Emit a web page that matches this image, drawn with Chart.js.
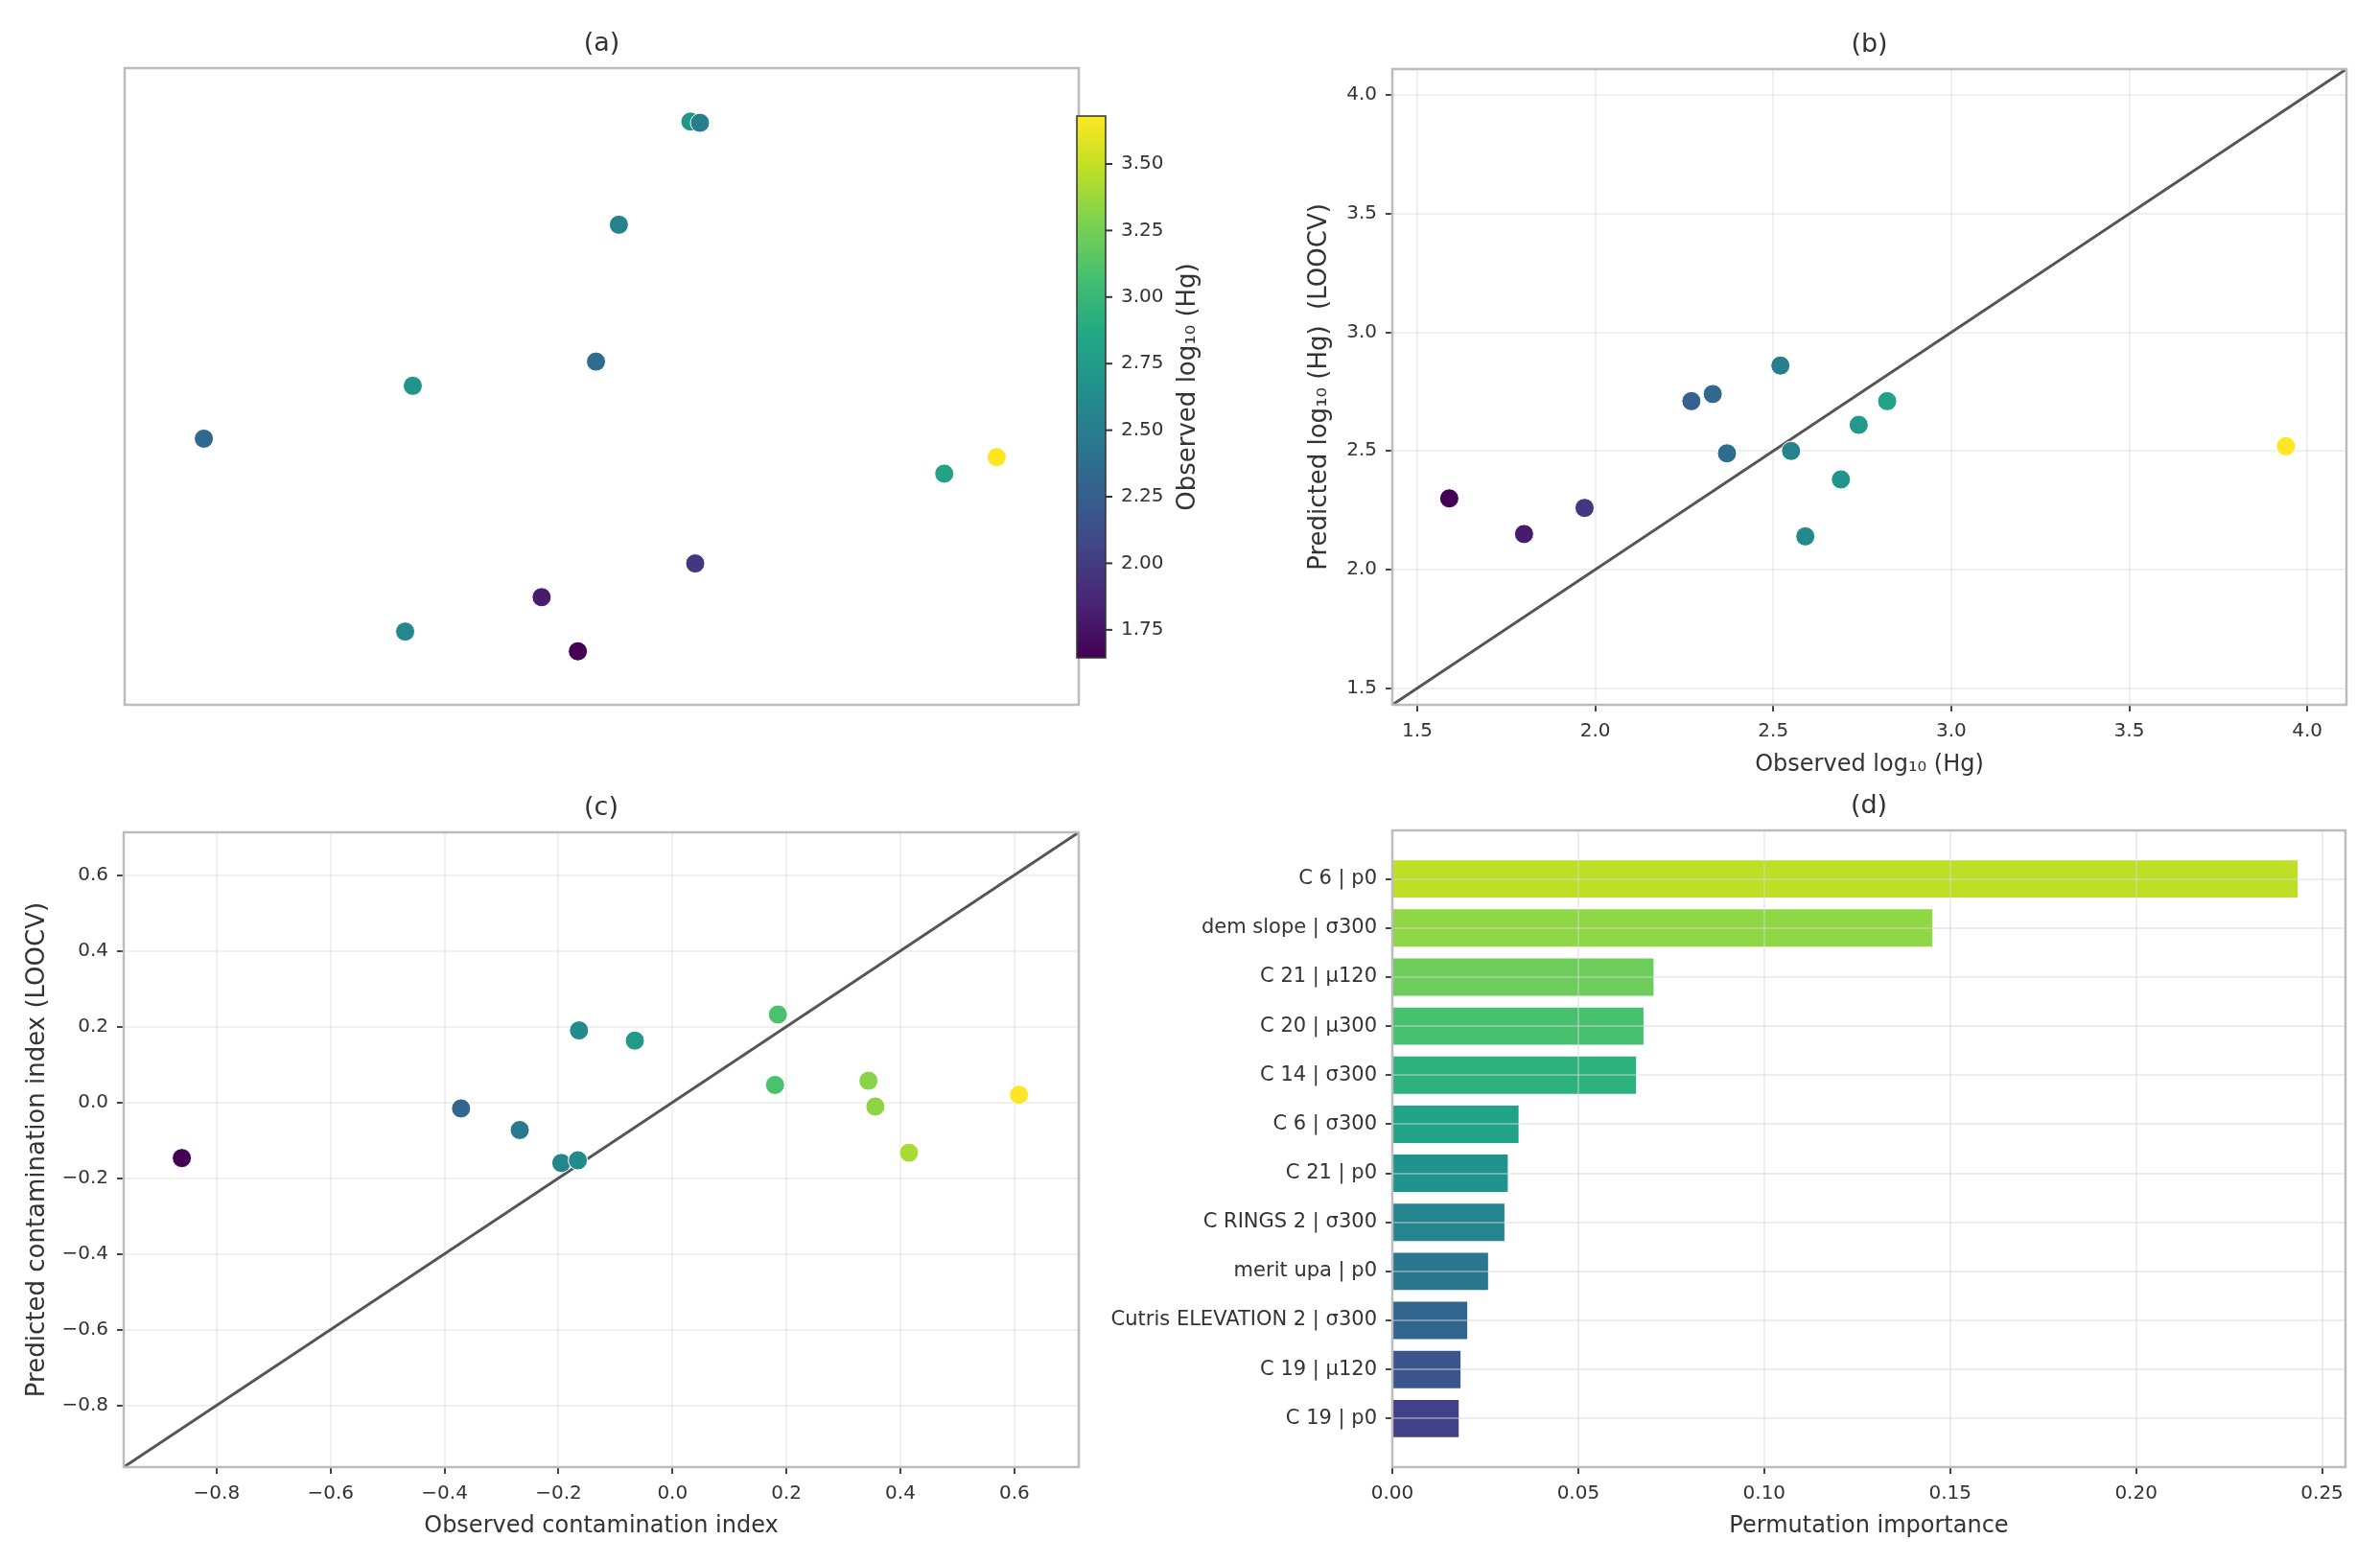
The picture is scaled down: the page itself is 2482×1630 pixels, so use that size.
<!DOCTYPE html>
<html>
<head>
  <title>Hg LOOCV panels</title>
  <script src="https://cdn.jsdelivr.net/npm/chart.js"></script>
  <style>
    body { margin: 0; background: #fff; }
    #wrap { position: relative; width: 2482px; height: 1630px; }
    canvas { position: absolute; }
  </style>
</head>
<body>
<div id="wrap">
  <canvas id="chartA" width="1300" height="815" style="left:0;top:0"></canvas>
  <canvas id="chartB" width="1182" height="815" style="left:1300px;top:0"></canvas>
  <canvas id="chartC" width="1140" height="815" style="left:0;top:815px"></canvas>
  <canvas id="chartD" width="1342" height="815" style="left:1140px;top:815px"></canvas>
</div>

<script>
  // (a) sample locations (no axes shown), coloured by observed log10(Hg)
  const mapX = [59.3, 60.3, 51.8, 49.4, 30.2, 8.3, 85.9, 91.4, 59.8, 43.7, 29.4, 47.5];
  const mapY = [91.6, 91.4, 75.4, 53.9, 50.1, 41.8, 36.3, 38.9, 22.2, 16.9, 11.5, 8.4];
  const mapObs = [2.73, 2.52, 2.55, 2.37, 2.69, 2.33, 2.81, 3.94, 1.97, 1.80, 2.59, 1.59];
  const cbMin = 1.645, cbMax = 3.68;
  const cbTicks = [1.75, 2.00, 2.25, 2.50, 2.75, 3.00, 3.25, 3.50];

  // (b) observed vs predicted log10(Hg)
  const hgObs = [1.59, 1.80, 1.97, 2.27, 2.33, 2.37, 2.52, 2.55, 2.59, 2.69, 2.74, 2.82, 3.94];
  const hgPred = [2.30, 2.15, 2.26, 2.71, 2.74, 2.49, 2.86, 2.50, 2.14, 2.38, 2.61, 2.71, 2.52];
  const hgLim = [1.43, 4.11];
  const hgTicks = [1.5, 2.0, 2.5, 3.0, 3.5, 4.0];

  // (c) observed vs predicted contamination index
  const ciObs = [-0.861, -0.371, -0.268, -0.195, -0.166, -0.164, -0.066, 0.180, 0.185, 0.344, 0.356, 0.415, 0.608];
  const ciPred = [-0.147, -0.016, -0.073, -0.160, -0.153, 0.190, 0.163, 0.046, 0.232, 0.057, -0.011, -0.133, 0.020];
  const ciLim = [-0.963, 0.713];
  const ciTicks = [-0.8, -0.6, -0.4, -0.2, 0.0, 0.2, 0.4, 0.6];

  // (d) permutation importance
  const features = ['C 6 | p0', 'dem slope | σ300', 'C 21 | μ120', 'C 20 | μ300', 'C 14 | σ300', 'C 6 | σ300',
    'C 21 | p0', 'C RINGS 2 | σ300', 'merit upa | p0', 'Cutris ELEVATION 2 | σ300', 'C 19 | μ120', 'C 19 | p0'];
  const importance = [0.2437, 0.1455, 0.0705, 0.0678, 0.0658, 0.0342, 0.0313, 0.0304, 0.0260, 0.0204, 0.0186, 0.0181];
  const impTicks = [0, 0.05, 0.10, 0.15, 0.20, 0.25];

  const barColors = ['#bddf26', '#8fd744', '#6ccd5a', '#48c16e', '#2db27d', '#20a386',
    '#1f948c', '#25858e', '#2a768e', '#32658e', '#3a548c', '#424086'];

  // viridis
  const viridisStops = ['#440154', '#482475', '#414487', '#355f8d', '#2a788e', '#21918c',
    '#22a884', '#44bf70', '#7ad151', '#bddf26', '#fde725'];

  function hexRgb(h) {
    return [1, 3, 5].map(i => parseInt(h.slice(i, i + 2), 16));
  }
  function viridis(t) {
    t = Math.min(1, Math.max(0, t));
    const n = viridisStops.length - 1;
    const i = Math.min(n - 1, Math.floor(t * n));
    const f = t * n - i;
    const a = hexRgb(viridisStops[i]), b = hexRgb(viridisStops[i + 1]);
    const c = a.map((v, k) => Math.round(v + (b[k] - v) * f));
    return `rgb(${c[0]},${c[1]},${c[2]})`;
  }

  Chart.defaults.font.family = '"DejaVu Sans", sans-serif';
  Chart.defaults.font.size = 20;
  Chart.defaults.color = '#333';
  Chart.defaults.animation = false;
  Chart.defaults.plugins.legend.display = false;
  Chart.defaults.plugins.tooltip.enabled = false;

  const frame = {
    id: 'frame',
    afterDraw(chart) {
      const { ctx, chartArea: a } = chart;
      ctx.save();
      ctx.strokeStyle = '#bcbcbc';
      ctx.lineWidth = 2.5;
      ctx.strokeRect(a.left, a.top, a.right - a.left, a.bottom - a.top);
      ctx.restore();
    }
  };

  const panelTitle = {
    id: 'panelTitle',
    afterDraw(chart, args, opts) {
      const { ctx, chartArea: a } = chart;
      ctx.save();
      ctx.font = '27px "DejaVu Sans"';
      ctx.fillStyle = '#333';
      ctx.textAlign = 'center';
      ctx.textBaseline = 'middle';
      ctx.fillText(opts.text, (a.left + a.right) / 2, a.top - 25);
      ctx.restore();
    }
  };

  const colorbar = {
    id: 'colorbar',
    afterDraw(chart) {
      const { ctx, chartArea: a } = chart;
      const x0 = a.right - 2, w = 30, top = a.top + 50, bottom = a.bottom - 49;
      const grad = ctx.createLinearGradient(0, bottom, 0, top);
      viridisStops.forEach((c, i) => grad.addColorStop(i / (viridisStops.length - 1), c));
      ctx.save();
      ctx.fillStyle = grad;
      ctx.fillRect(x0, top, w, bottom - top);
      ctx.strokeStyle = '#333';
      ctx.lineWidth = 1.5;
      ctx.strokeRect(x0, top, w, bottom - top);
      const yOf = v => bottom - (v - cbMin) / (cbMax - cbMin) * (bottom - top);
      ctx.font = '20px "DejaVu Sans"';
      ctx.fillStyle = '#333';
      ctx.textAlign = 'left';
      ctx.textBaseline = 'middle';
      ctx.lineWidth = 2;
      cbTicks.forEach(v => {
        const y = yOf(v);
        ctx.beginPath();
        ctx.moveTo(x0 + w, y);
        ctx.lineTo(x0 + w + 7, y);
        ctx.stroke();
        ctx.fillText(v.toFixed(2), x0 + w + 16, y);
      });
      ctx.translate(a.right + 114, (top + bottom) / 2);
      ctx.rotate(-Math.PI / 2);
      ctx.textAlign = 'center';
      ctx.font = '26px "DejaVu Sans"';
      ctx.fillText('Observed log₁₀ (Hg)', 0, 0);
      ctx.restore();
    }
  };

  const minus = v => (v < 0 ? '\u2212' : '');

  function numAxis(min, max, ticks, fmt, title, titlePad, size, isY, gridOpts) {
    return {
      type: 'linear',
      min: min,
      max: max,
      offset: false,
      afterBuildTicks: s => { s.ticks = ticks.map(v => ({ value: v })); },
      afterFit: s => { if (isY) s.width = size; else s.height = size; },
      ticks: {
        callback: fmt,
        padding: 9,
        autoSkip: false,
        maxRotation: 0,
        color: '#333',
        font: { size: 20 }
      },
      grid: Object.assign({
        offset: false,
        color: 'rgba(0,0,0,0.06)',
        lineWidth: 2,
        tickColor: '#444',
        tickLength: 7,
        tickWidth: 2
      }, gridOpts || {}),
      border: { display: false },
      title: { display: true, text: title, color: '#333', font: { size: isY ? 26 : 24 }, padding: titlePad }
    };
  }

  function pts(xs, ys) {
    return xs.map((x, i) => ({ x: x, y: ys[i] }));
  }

  // (a)
  new Chart(document.getElementById('chartA'), {
    type: 'scatter',
    data: {
      datasets: [{
        data: pts(mapX, mapY),
        pointRadius: 10,
        pointBackgroundColor: mapObs.map(v => viridis((v - cbMin) / (cbMax - cbMin))),
        pointBorderColor: '#fff',
        pointBorderWidth: 1
      }]
    },
    options: {
      responsive: false,
      layout: { padding: { left: 130, top: 71, right: 175, bottom: 80 } },
      scales: {
        x: { display: false, min: 0, max: 100 },
        y: { display: false, min: 0, max: 100 }
      },
      plugins: { panelTitle: { text: '(a)' } }
    },
    plugins: [frame, colorbar, panelTitle]
  });

  // (b)
  new Chart(document.getElementById('chartB'), {
    type: 'scatter',
    data: {
      datasets: [{
        data: pts(hgObs, hgPred),
        pointRadius: 10,
        pointBackgroundColor: hgObs.map(v => viridis((v - cbMin) / (cbMax - cbMin))),
        pointBorderColor: '#fff',
        pointBorderWidth: 1
      }, {
        type: 'line',
        data: pts(hgLim, hgLim),
        borderColor: '#555',
        borderWidth: 3,
        pointRadius: 0
      }]
    },
    options: {
      responsive: false,
      layout: { padding: { top: 72, right: 35 } },
      scales: {
        x: numAxis(hgLim[0], hgLim[1], hgTicks, v => v.toFixed(1), 'Observed log₁₀ (Hg)',
          { top: 0, bottom: 3 }, 80, false),
        y: numAxis(hgLim[0], hgLim[1], hgTicks, v => v.toFixed(1), 'Predicted log₁₀ (Hg)  (LOOCV)',
          { top: 61, bottom: 0 }, 152, true)
      },
      plugins: { panelTitle: { text: '(b)' } }
    },
    plugins: [frame, panelTitle]
  });

  // (c)
  const ciLo = Math.min(...ciObs), ciHi = Math.max(...ciObs);
  const ciFmt = v => minus(v) + Math.abs(v).toFixed(1);
  new Chart(document.getElementById('chartC'), {
    type: 'scatter',
    data: {
      datasets: [{
        data: pts(ciObs, ciPred),
        pointRadius: 10,
        pointBackgroundColor: ciObs.map(v => viridis((v - ciLo) / (ciHi - ciLo))),
        pointBorderColor: '#fff',
        pointBorderWidth: 1
      }, {
        type: 'line',
        data: pts(ciLim, ciLim),
        borderColor: '#555',
        borderWidth: 3,
        pointRadius: 0
      }]
    },
    options: {
      responsive: false,
      layout: { padding: { top: 53, right: 15 } },
      scales: {
        x: numAxis(ciLim[0], ciLim[1], ciTicks, ciFmt, 'Observed contamination index',
          { top: 0, bottom: 24 }, 100, false),
        y: numAxis(ciLim[0], ciLim[1], ciTicks, ciFmt, 'Predicted contamination index (LOOCV)',
          { top: 24, bottom: 0 }, 129, true)
      },
      plugins: { panelTitle: { text: '(c)' } }
    },
    plugins: [frame, panelTitle]
  });

  // (d)
  const onTop = { z: 1, color: 'rgba(215,215,215,0.45)' };
  const yFeat = numAxis(-0.99, features.length - 0.01, features.map((f, i) => i), v => features[v], '',
    { top: 0, bottom: 0 }, 312, true, onTop);
  yFeat.reverse = true;
  yFeat.title.display = false;
  yFeat.ticks.font = { size: 21 };
  new Chart(document.getElementById('chartD'), {
    type: 'bar',
    data: {
      datasets: [{
        data: importance.map((v, i) => ({ x: v, y: i })),
        backgroundColor: barColors,
        borderColor: 'rgba(255,255,255,0.5)',
        borderWidth: 1,
        barPercentage: 0.8,
        categoryPercentage: 1.0
      }]
    },
    options: {
      responsive: false,
      indexAxis: 'y',
      layout: { padding: { top: 51, right: 36 } },
      scales: {
        x: numAxis(0, 0.2563, impTicks, v => v.toFixed(2), 'Permutation importance',
          { top: 0, bottom: 24 }, 100, false, onTop),
        y: yFeat
      },
      plugins: { panelTitle: { text: '(d)' } }
    },
    plugins: [frame, panelTitle]
  });
</script>
</body>
</html>
